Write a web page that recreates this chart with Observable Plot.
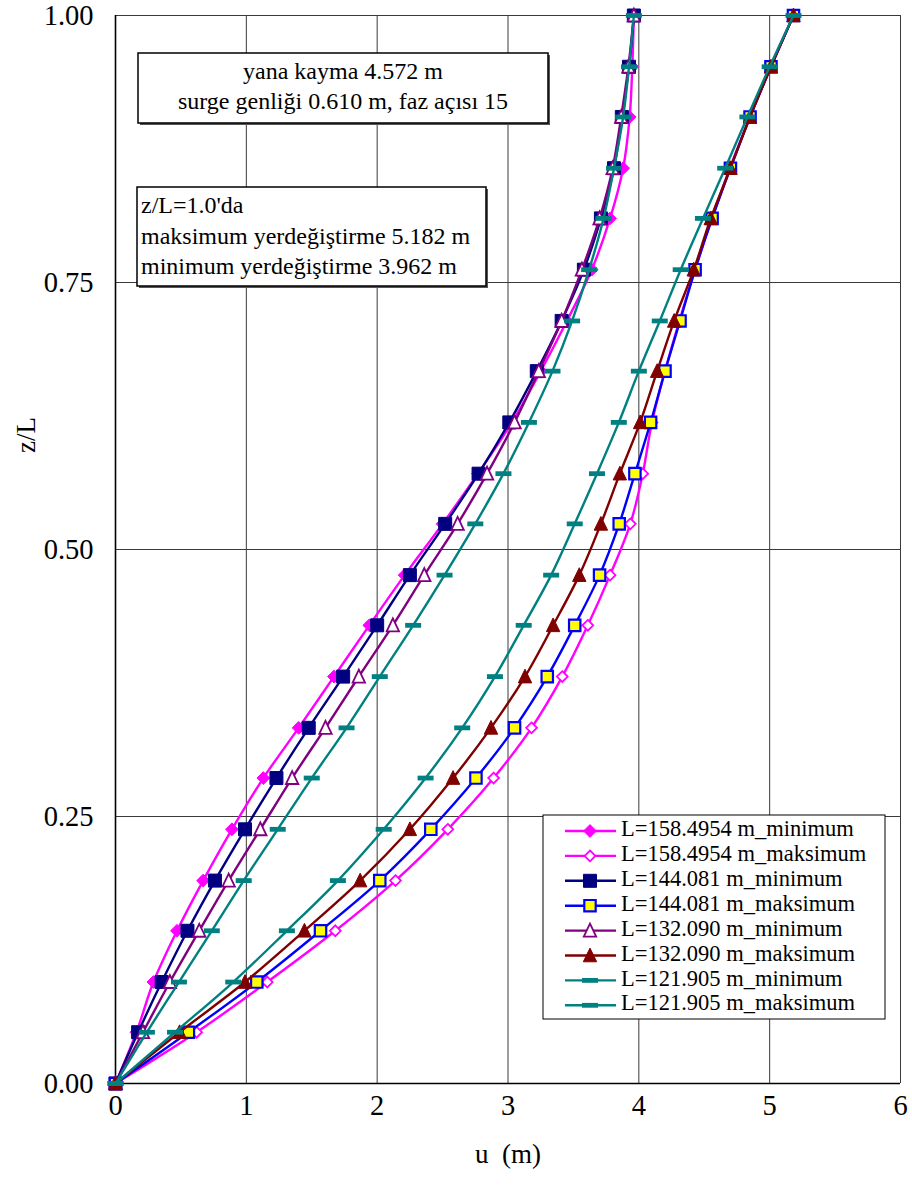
<!DOCTYPE html>
<html><head><meta charset="utf-8">
<script src="https://cdn.jsdelivr.net/npm/d3@7"></script>
<script src="https://cdn.jsdelivr.net/npm/@observablehq/plot@0.6"></script>
<style>
body{margin:0;background:#fff}
#chart{position:relative;width:912px;height:1201px}
svg{font-family:"Liberation Serif","Times New Roman",serif}
</style>
</head><body><div id="chart"></div>
<script>
// z/L levels (21 equal segments)
const zLevels = [0, 0.048, 0.095, 0.143, 0.190, 0.238, 0.286, 0.333, 0.381, 0.429, 0.476,
  0.524, 0.571, 0.619, 0.667, 0.714, 0.762, 0.810, 0.857, 0.905, 0.952, 1.000];

const L158min = [0, 0.16, 0.29, 0.47, 0.67, 0.89, 1.13, 1.40, 1.67, 1.94, 2.21, 2.50, 2.77, 3.03, 3.25, 3.45, 3.64, 3.78, 3.88, 3.93, 3.95, 3.962];
const L158max = [0, 0.62, 1.16, 1.68, 2.14, 2.54, 2.89, 3.18, 3.415, 3.61, 3.78, 3.935, 4.03, 4.10, 4.20, 4.31, 4.43, 4.56, 4.695, 4.85, 5.01, 5.182];
const L144min = [0, 0.173, 0.353, 0.55, 0.76, 0.99, 1.23, 1.477, 1.74, 2.00, 2.25, 2.52, 2.775, 3.01, 3.22, 3.41, 3.58, 3.71, 3.81, 3.87, 3.925, 3.962];
const L144max = [0, 0.557, 1.08, 1.567, 2.02, 2.41, 2.755, 3.05, 3.30, 3.51, 3.70, 3.85, 3.97, 4.09, 4.20, 4.315, 4.43, 4.56, 4.70, 4.85, 5.01, 5.182];
const L132min = [0, 0.21, 0.416, 0.64, 0.865, 1.107, 1.35, 1.605, 1.86, 2.12, 2.36, 2.615, 2.84, 3.05, 3.235, 3.41, 3.565, 3.70, 3.80, 3.865, 3.92, 3.962];
const L132max = [0, 0.49, 0.99, 1.444, 1.87, 2.25, 2.58, 2.87, 3.13, 3.345, 3.545, 3.71, 3.855, 4.01, 4.14, 4.27, 4.42, 4.55, 4.70, 4.85, 5.01, 5.182];
const L121min = [0, 0.24, 0.485, 0.736, 0.98, 1.24, 1.50, 1.766, 2.02, 2.275, 2.515, 2.75, 2.965, 3.16, 3.34, 3.49, 3.62, 3.73, 3.81, 3.88, 3.925, 3.962];
const L121max = [0, 0.455, 0.90, 1.31, 1.70, 2.05, 2.37, 2.65, 2.90, 3.12, 3.33, 3.51, 3.68, 3.847, 4.00, 4.16, 4.32, 4.49, 4.66, 4.83, 5.00, 5.182];

const seriesNames = ["L=158.4954 m_minimum", "L=158.4954 m_maksimum", "L=144.081 m_minimum", "L=144.081 m_maksimum",
  "L=132.090 m_minimum", "L=132.090 m_maksimum", "L=121.905 m_minimum", "L=121.905 m_maksimum"];
const seriesValues = [L158min, L158max, L144min, L144max, L132min, L132max, L121min, L121max];

const xTicks = [0, 1, 2, 3, 4, 5, 6];
const yTicks = [0, 0.25, 0.5, 0.75, 1.0];
const xLabel = "u  (m)";
const yLabel = "z/L";
const box1Lines = ["yana kayma 4.572 m", "surge genliği 0.610 m, faz açısı 15"];
const box2Lines = ["z/L=1.0'da", "maksimum yerdeğiştirme 5.182 m", "minimum yerdeğiştirme 3.962 m"];

// marker shapes
const symDiamond = (r) => ({draw(c){ c.moveTo(0,-r); c.lineTo(r,0); c.lineTo(0,r); c.lineTo(-r,0); c.closePath(); }});
const symSquare = (s) => ({draw(c){ c.moveTo(-s,-s); c.lineTo(s,-s); c.lineTo(s,s); c.lineTo(-s,s); c.closePath(); }});
const symTriangle = (w,h) => ({draw(c){ c.moveTo(0,-h); c.lineTo(w,h*0.85); c.lineTo(-w,h*0.85); c.closePath(); }});
const symDash = {draw(c){ c.moveTo(-8,-2.4); c.lineTo(8,-2.4); c.lineTo(8,2.4); c.lineTo(-8,2.4); c.closePath(); }};

const styles = [
  {line:"#FF00FF", sym:symDiamond(6.4), fill:"#FF00FF", stroke:"#FF00FF", sw:1},
  {line:"#FF00FF", sym:symDiamond(5.4), fill:"#FFFFFF", stroke:"#FF00FF", sw:1.8},
  {line:"#000080", sym:symSquare(6.5), fill:"#000080", stroke:"#000080", sw:1},
  {line:"#0000FF", sym:symSquare(5.7), fill:"#FFFF00", stroke:"#0000FF", sw:2.2},
  {line:"#800080", sym:symTriangle(6.2,7), fill:"#FFFFFF", stroke:"#800080", sw:1.8},
  {line:"#800000", sym:symTriangle(6.7,7.4), fill:"#800000", stroke:"#800000", sw:1},
  {line:"#008080", sym:symDash, fill:"#008080", stroke:"none", sw:0},
  {line:"#008080", sym:symDash, fill:"#008080", stroke:"none", sw:0}
];

const tables = seriesValues.map((vals, k) => vals.map((u, i) => ({u, z: zLevels[i], s: seriesNames[k]})));

const marks = [
  Plot.gridX(xTicks.slice(1), {stroke:"#3a3a3a", strokeOpacity:1, strokeWidth:1}),
  Plot.gridY(yTicks.slice(1), {stroke:"#3a3a3a", strokeOpacity:1, strokeWidth:1}),
  Plot.ruleX([0], {stroke:"#000", strokeWidth:1.6}),
  Plot.ruleY([0], {stroke:"#000", strokeWidth:1.6}),
  Plot.text(xTicks, {x: d => d, y: 0, dy: 22, text: d => String(d), fontSize: 28.5, fill:"#000"}),
  Plot.text(yTicks, {x: 0, y: d => d, dx: -22, text: d => d.toFixed(2), textAnchor: "end", fontSize: 28.5, fill:"#000"})
];
tables.forEach((t, k) => {
  const st = styles[k];
  marks.push(Plot.line(t, {x:"u", y:"z", stroke: st.line, strokeWidth: 2.4, curve: "catmull-rom"}));
  marks.push(Plot.dot(t, {x:"u", y:"z", symbol: st.sym, r: 5, fill: st.fill, stroke: st.stroke, strokeWidth: st.sw, fillOpacity: 1}));
});

const chart = Plot.plot({
  width: 912, height: 1201,
  marginLeft: 115, marginRight: 12, marginTop: 15, marginBottom: 118,
  x: {domain: [0, 6], axis: null},
  y: {domain: [0, 1], axis: null},
  style: {fontFamily: "'Liberation Serif','Times New Roman',serif", background: "#fff", color: "#000", overflow: "visible"},
  marks
});
document.getElementById("chart").appendChild(chart);

const svg = d3.select(chart);
const serif = "'Liberation Serif','Times New Roman',serif";

// axis titles
svg.append("text").attr("x", 508).attr("y", 1157).attr("text-anchor","middle").attr("dominant-baseline","middle")
  .attr("font-family", serif).attr("font-size", 27).attr("fill","#000").attr("xml:space","preserve").text(xLabel);
svg.append("text").attr("transform","translate(29,435) rotate(-90)").attr("text-anchor","middle").attr("dominant-baseline","middle")
  .attr("font-family", serif).attr("font-size", 27).attr("fill","#000").text(yLabel);

function box(x, y, w, h) {
  svg.append("rect").attr("x", x+2).attr("y", y+2).attr("width", w).attr("height", h).attr("fill", "#555");
  svg.append("rect").attr("x", x).attr("y", y).attr("width", w).attr("height", h).attr("fill", "#fff").attr("stroke", "#000").attr("stroke-width", 1.5);
}
box(138, 53, 410, 70);
box1Lines.forEach((t, i) => svg.append("text").attr("x", 343).attr("y", 79 + i*30).attr("text-anchor","middle")
  .attr("font-family", serif).attr("font-size", 24).attr("fill","#000").text(t));
box(137, 187, 349, 99);
box2Lines.forEach((t, i) => svg.append("text").attr("x", 141).attr("y", 213 + i*30.5).attr("text-anchor","start")
  .attr("font-family", serif).attr("font-size", 24).attr("fill","#000").text(t));

// legend
svg.append("rect").attr("x", 543).attr("y", 815).attr("width", 342).attr("height", 204).attr("fill","#fff").attr("stroke","#000").attr("stroke-width",1);
seriesNames.forEach((name, k) => {
  const st = styles[k];
  const cy = 831 + k*24.9;
  svg.append("line").attr("x1",565).attr("x2",616).attr("y1",cy).attr("y2",cy).attr("stroke",st.line).attr("stroke-width",2.4);
  const p = d3.path(); st.sym.draw(p);
  svg.append("path").attr("d", p.toString()).attr("transform",`translate(590,${cy})`)
    .attr("fill", st.fill).attr("stroke", st.stroke).attr("stroke-width", st.sw);
  svg.append("text").attr("x", 621).attr("y", cy).attr("dominant-baseline","middle").attr("text-anchor","start")
    .attr("font-family", serif).attr("font-size", 22.5).attr("fill","#000").text(name);
});
</script>
</body></html>
